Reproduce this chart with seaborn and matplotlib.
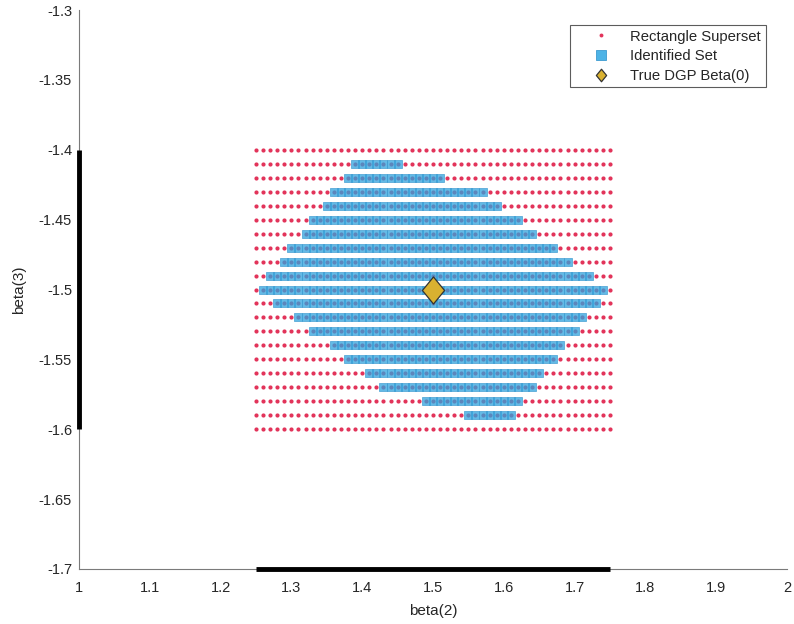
import numpy as np
import pandas as pd
import matplotlib
matplotlib.use("Agg")
import matplotlib.pyplot as plt
import seaborn as sns
from matplotlib.lines import Line2D
from matplotlib.path import Path

# ---- data ----
# rectangle superset grid (beta(2) columns, beta(3) rows)
beta2_cols = [round(1.25 + 0.01 * i, 2) for i in range(51)]
beta3_rows = [round(-1.40 - 0.01 * i, 2) for i in range(21)]
# identified set: per row, first and last beta(2) value (None = empty row)
id_lo = [None, 1.39, 1.38, 1.36, 1.35, 1.33, 1.32, 1.30, 1.29, 1.27, 1.26,
         1.28, 1.31, 1.33, 1.36, 1.38, 1.41, 1.43, 1.49, 1.55, None]
id_hi = [None, 1.45, 1.51, 1.57, 1.59, 1.62, 1.64, 1.67, 1.69, 1.72, 1.74,
         1.73, 1.71, 1.70, 1.68, 1.67, 1.65, 1.64, 1.62, 1.61, None]
true_beta = (1.5, -1.5)
x_ticks = [1, 1.1, 1.2, 1.3, 1.4, 1.5, 1.6, 1.7, 1.8, 1.9, 2]
y_ticks = [-1.7, -1.65, -1.6, -1.55, -1.5, -1.45, -1.4, -1.35, -1.3]
x_tick_labels = ["1", "1.1", "1.2", "1.3", "1.4", "1.5", "1.6", "1.7", "1.8", "1.9", "2"]
y_tick_labels = ["-1.7", "-1.65", "-1.6", "-1.55", "-1.5", "-1.45", "-1.4", "-1.35", "-1.3"]

sup = pd.DataFrame([(b2, b3) for b3 in beta3_rows for b2 in beta2_cols],
                   columns=["beta2", "beta3"])
ids = pd.DataFrame([(b2, b3) for b3, lo, hi in zip(beta3_rows, id_lo, id_hi)
                    if lo is not None
                    for b2 in beta2_cols if lo - 1e-9 <= b2 <= hi + 1e-9],
                   columns=["beta2", "beta3"])
truth = pd.DataFrame({"beta2": [true_beta[0]], "beta3": [true_beta[1]]})

# ---- style ----
sns.set_style("white")
plt.rcParams["font.family"] = ["Liberation Sans", "DejaVu Sans"]

RED = "#E2345A"
BLUE = "#2FA3DE"
GOLD = "#D9B130"
diamond = Path([(0, 1), (0.82, 0), (0, -1), (-0.82, 0), (0, 1)],
               [Path.MOVETO, Path.LINETO, Path.LINETO, Path.LINETO, Path.CLOSEPOLY])

fig = plt.figure(figsize=(7.94, 6.24), dpi=100)
ax = fig.add_axes([79 / 794, 55 / 624, 708 / 794, 559 / 624])

sns.scatterplot(data=sup, x="beta2", y="beta3", ax=ax, color=RED, marker="o",
                s=9, linewidth=0, legend=False, zorder=2)
sns.scatterplot(data=ids, x="beta2", y="beta3", ax=ax, color=BLUE, marker="s",
                s=30, linewidth=0.6, edgecolor="#3C9AD0", alpha=0.75,
                legend=False, zorder=3)
sns.scatterplot(data=truth, x="beta2", y="beta3", ax=ax, color=GOLD, marker=diamond,
                s=380, linewidth=0.9, edgecolor="#333333", legend=False, zorder=4)

ax.set_xlim(1, 2)
ax.set_ylim(-1.7, -1.3)
ax.set_xticks(x_ticks)
ax.set_xticklabels(x_tick_labels)
ax.set_yticks(y_ticks)
ax.set_yticklabels(y_tick_labels)
ax.tick_params(direction="in", length=5, width=0.6, colors="#888888",
               labelcolor="#262626", labelsize=10.5)
ax.tick_params(axis="x", pad=9)
ax.tick_params(axis="y", pad=5)
ax.set_xlabel("beta(2)", fontsize=11, color="#262626", labelpad=6)
ax.set_ylabel("beta(3)", fontsize=11, color="#262626", labelpad=9)
for s in ["top", "right"]:
    ax.spines[s].set_visible(False)
for s in ["left", "bottom"]:
    ax.spines[s].set_color("#7a7a7a")
    ax.spines[s].set_linewidth(0.8)

# range bars on axes (extent of the superset)
ax.plot([min(beta2_cols), max(beta2_cols)], [-1.7, -1.7], color="black",
        lw=3.5, clip_on=False, zorder=5, solid_capstyle="butt")
ax.plot([1, 1], [min(beta3_rows), max(beta3_rows)], color="black",
        lw=3.5, clip_on=False, zorder=5, solid_capstyle="butt")

handles = [
    Line2D([], [], ls="none", marker="o", markersize=2.8, color=RED, markeredgewidth=0),
    Line2D([], [], ls="none", marker="s", markersize=7, color="#4DB3E6",
           markeredgecolor="#3C9AD0", markeredgewidth=0.6),
    Line2D([], [], ls="none", marker=diamond, markersize=9, color=GOLD,
           markeredgecolor="#333333", markeredgewidth=0.9),
]
leg = ax.legend(handles, ["Rectangle Superset", "Identified Set", "True DGP Beta(0)"],
                loc="upper left", bbox_to_anchor=((570 - 79) / 708, 0.973), borderaxespad=0,
                fontsize=10.7, frameon=True, fancybox=False, edgecolor="#333333",
                handletextpad=0.17, borderpad=0.3, labelspacing=0.38,
                handlelength=3.6)
leg.get_frame().set_linewidth(0.8)

fig.savefig("out.png", dpi=100)
